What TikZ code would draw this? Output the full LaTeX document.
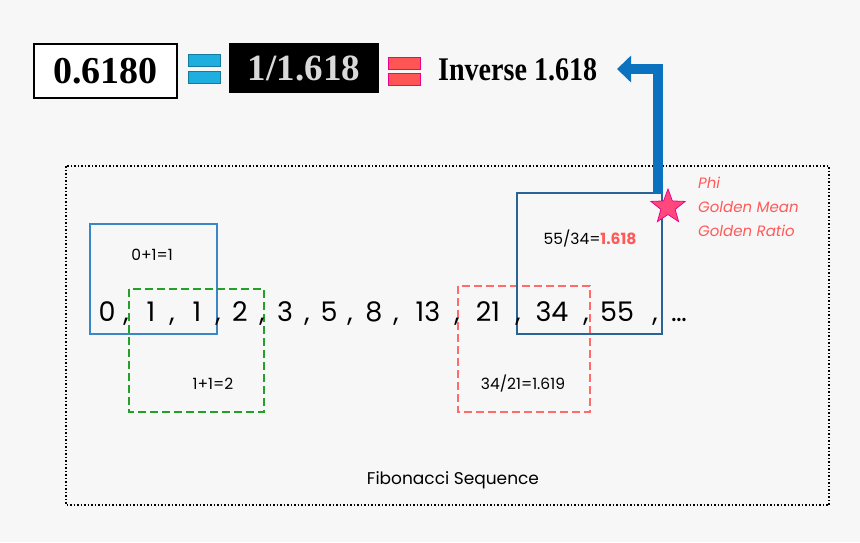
\documentclass[tikz,border=0pt]{standalone}
\usepackage{fontspec}
\setmainfont{Poppins}
\newfontfamily\titlefont{Liberation Serif}
\usetikzlibrary{shapes.geometric,arrows.meta}
\definecolor{bg}{HTML}{F7F7F7}
\definecolor{eqblue}{HTML}{1FAEE0}
\definecolor{eqpink}{HTML}{FF5555}
\definecolor{arrblue}{HTML}{0A72BE}
\definecolor{lblue}{HTML}{3A87C8}
\definecolor{dblue}{HTML}{2A6496}
\definecolor{gdash}{HTML}{22A02A}
\definecolor{rdash}{HTML}{FF6A6A}
\definecolor{phired}{HTML}{FF5A5A}
\tikzset{
  eqbar/.style={minimum width=32pt,minimum height=12pt,inner sep=0pt},
  small/.style={font=\fontsize{15.5}{17}\selectfont},
  seqtok/.style={font=\fontsize{27}{30}\selectfont,inner sep=0pt},
  dashbox/.style={line width=1.2pt,dash pattern=on 8pt off 4pt},
  phitext/.style={text=phired,font=\fontsize{15}{17}\selectfont\itshape,anchor=west,inner sep=0pt},
}
\begin{document}
\begin{tikzpicture}[x=1pt,y=-1pt]
\fill[bg] (0,0) rectangle (860,542);
\useasboundingbox (0,0) rectangle (860,542);
% title row
\node[draw=black,line width=2.5pt,fill=white,minimum width=143pt,minimum height=54pt,inner sep=0pt,font=\titlefont\bfseries\fontsize{38}{40}\selectfont] (a) at (105.5,71) {0.6180};
\node[eqbar,fill=eqblue,draw=eqblue!70!black,line width=0.4pt] (b1) at (204,60) {};
\node[eqbar,fill=eqblue,draw=eqblue!70!black,line width=0.4pt] (b2) at (204,77) {};
\node[fill=black,text=white!85!black,minimum width=150pt,minimum height=50pt,inner sep=0pt,font=\titlefont\bfseries\fontsize{37}{39}\selectfont] (c) at (304,68) {1/1.618};
\node[eqbar,fill=eqpink,draw=magenta,line width=0.8pt] (p1) at (404,63) {};
\node[eqbar,fill=eqpink,draw=magenta,line width=0.8pt] (p2) at (404,79) {};
\node[anchor=west,inner sep=0pt,font=\titlefont\bfseries\fontsize{33}{35}\selectfont] (inv) at (438,70) {\scalebox{0.85}[1]{Inverse 1.618}};
% frame
\draw[line width=1.5pt,dotted] (66,166) rectangle (829,505);
% boxes
\draw[lblue,line width=1.2pt] (90,224) rectangle (217,334);
\node[small] (t1) at (152,255) {0+1=1};
\draw[gdash,dashbox] (129,289) rectangle (264,412);
\node[small] (t2) at (213,384) {1+1=2};
\draw[rdash,dashbox] (458,286) rectangle (590,412);
\node[small] (t3) at (523,384) {34/21=1.619};
\draw[dblue,line width=1.2pt] (517,193) rectangle (662,334);
\node[small] (t4) at (590,239) {55/34=\textcolor{phired}{\bfseries 1.618}};
% sequence
\foreach \t/\x [count=\i] in {0/107,{,}/126,1/151,{,}/172,1/197,{,}/218,2/240,{,}/262,3/285,{,}/307,5/329,{,}/350,8/374,{,}/396,13/428,{,}/457,21/488,{,}/518,34/552,{,}/586,55/617,{,}/655}
  \node[seqtok,anchor=base] (q\i) at (\x,321) {\t};
\node[seqtok,anchor=base] (qend) at (679,321) {\ldots};
\node[font=\fontsize{17}{19}\selectfont] (fib) at (453,480) {Fibonacci Sequence};
% arrow
\coordinate (s) at (658,194);
\coordinate (k) at (658,69);
\coordinate (e) at (617,69);
\draw[arrblue,line width=10pt,-{Triangle[length=14pt,width=26pt]}] (s) -- (k) -- (e);
% star
\node[star,star points=5,star point ratio=2.4,fill=phired!80!magenta,draw=magenta,line width=0.8pt,minimum size=36pt,inner sep=0pt] (star) at (668,207) {};
\node[phitext] (phi) at (698,183) {Phi};
\node[phitext] (gm) at (698,207) {Golden Mean};
\node[phitext] (gr) at (698,231) {Golden Ratio};
\end{tikzpicture}
\end{document}
